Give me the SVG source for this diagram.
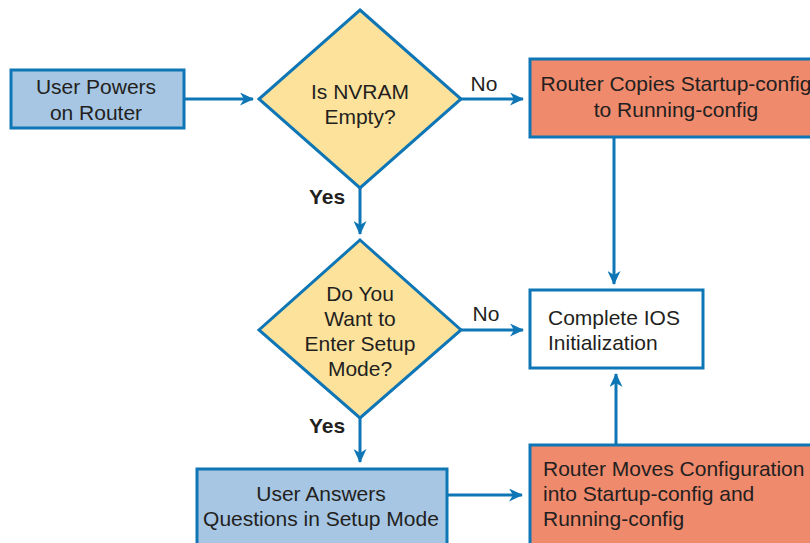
<svg xmlns="http://www.w3.org/2000/svg" width="810" height="543" viewBox="0 0 810 543">
<style>
.n{stroke:#0f76b6;stroke-width:3}
.blue{fill:#a6c6e3}
.yel{fill:#fde29c}
.sal{fill:#ef8a6d}
.wht{fill:#ffffff}
.t{font-family:"Liberation Sans",Arial,sans-serif;font-size:21px;fill:#231f20}
.c{text-anchor:middle}
.b{font-weight:bold}
.e{stroke:#0f76b6;stroke-width:3;fill:none}
</style>
<defs>
<marker id="ah" markerWidth="14" markerHeight="13" viewBox="0 0 14 13" refX="13" refY="6.5" orient="auto" markerUnits="userSpaceOnUse">
<path d="M0,0 L14,6.5 L0,13 L4,6.5 Z" fill="#0f76b6"/>
</marker>
</defs>
<rect width="810" height="543" fill="#ffffff"/>
<g id="connectors">
<line class="e" x1="184" y1="99" x2="253" y2="99" marker-end="url(#ah)"/>
<line class="e" x1="461" y1="99" x2="523" y2="99" marker-end="url(#ah)"/>
<line class="e" x1="614" y1="137" x2="614" y2="284" marker-end="url(#ah)"/>
<line class="e" x1="360" y1="188" x2="360" y2="234" marker-end="url(#ah)"/>
<line class="e" x1="461" y1="330" x2="523" y2="330" marker-end="url(#ah)"/>
<line class="e" x1="360" y1="418" x2="360" y2="462" marker-end="url(#ah)"/>
<line class="e" x1="447" y1="495" x2="522" y2="495" marker-end="url(#ah)"/>
<line class="e" x1="616" y1="445" x2="616" y2="374" marker-end="url(#ah)"/>
<text class="t" x="484" y="91" text-anchor="middle">No</text>
<text class="t" x="486" y="321" text-anchor="middle">No</text>
<text class="t b" x="327" y="204" text-anchor="middle">Yes</text>
<text class="t b" x="327" y="433" text-anchor="middle">Yes</text>
</g>
<g id="start">
<rect class="n blue" x="11" y="70" width="173" height="58"/>
<text class="t c" x="96" y="94">User Powers</text>
<text class="t c" x="96" y="120">on Router</text>
</g>
<g id="nvram">
<polygon class="n yel" points="360,10 461,99 360,188 259,99"/>
<text class="t c" x="360" y="99">Is NVRAM</text>
<text class="t c" x="360" y="124">Empty?</text>
</g>
<g id="copies">
<rect class="n sal" x="530" y="59" width="290" height="78"/>
<text class="t c" x="676" y="91">Router Copies Startup-config</text>
<text class="t c" x="676" y="117">to Running-config</text>
</g>
<g id="setup">
<polygon class="n yel" points="360,240 461,330 360,418 259,330"/>
<text class="t c" x="360" y="301">Do You</text>
<text class="t c" x="360" y="326">Want to</text>
<text class="t c" x="360" y="351">Enter Setup</text>
<text class="t c" x="360" y="376">Mode?</text>
</g>
<g id="complete">
<rect class="n wht" x="530" y="290" width="173" height="78"/>
<text class="t" x="548" y="325">Complete IOS</text>
<text class="t" x="548" y="350">Initialization</text>
</g>
<g id="answers">
<rect class="n blue" x="197" y="469" width="250" height="90"/>
<text class="t c" x="321" y="501">User Answers</text>
<text class="t c" x="321" y="526">Questions in Setup Mode</text>
</g>
<g id="moves">
<rect class="n sal" x="530" y="445" width="290" height="110"/>
<text class="t" x="543" y="476">Router Moves Configuration</text>
<text class="t" x="543" y="501">into Startup-config and</text>
<text class="t" x="543" y="526">Running-config</text>
</g>
</svg>
